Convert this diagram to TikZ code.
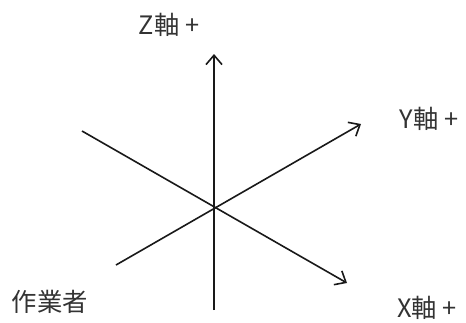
\documentclass[tikz,border=0pt]{standalone}
\usepackage{fontspec}
\setmainfont{Noto Sans CJK JP}
\usetikzlibrary{arrows.meta}
\tikzset{
  axis/.style={line width=1.2pt, draw=black!90},
  axisarrow/.style={axis, -{Straight Barb[length=7pt,width=12pt,line width=1.2pt]}},
  lbl/.style={inner sep=0pt, text=black!80, font=\fontsize{19}{21}\selectfont}
}
\begin{document}
\begin{tikzpicture}[x=0.75pt,y=-0.75pt]
\useasboundingbox (0,0) rectangle (466,322);
\coordinate (O) at (214,208);
\coordinate (zs) at (214,310);
\coordinate (ze) at (214,54);
\coordinate (ys) at (116,265);
\coordinate (ye) at (361,124);
\coordinate (xs) at (82,131);
\coordinate (xe) at (347,283);
\draw[axisarrow] (zs) -- (ze);
\draw[axisarrow] (ys) -- (ye);
\draw[axisarrow] (xs) -- (xe);
\node[lbl] (zl) at (169,25) {Z軸 +};
\node[lbl] (yl) at (429,119) {Y軸 +};
\node[lbl] (xl) at (427,308) {X軸 +};
\node[lbl] (op) at (50,302) {作業者};
\end{tikzpicture}
\end{document}
